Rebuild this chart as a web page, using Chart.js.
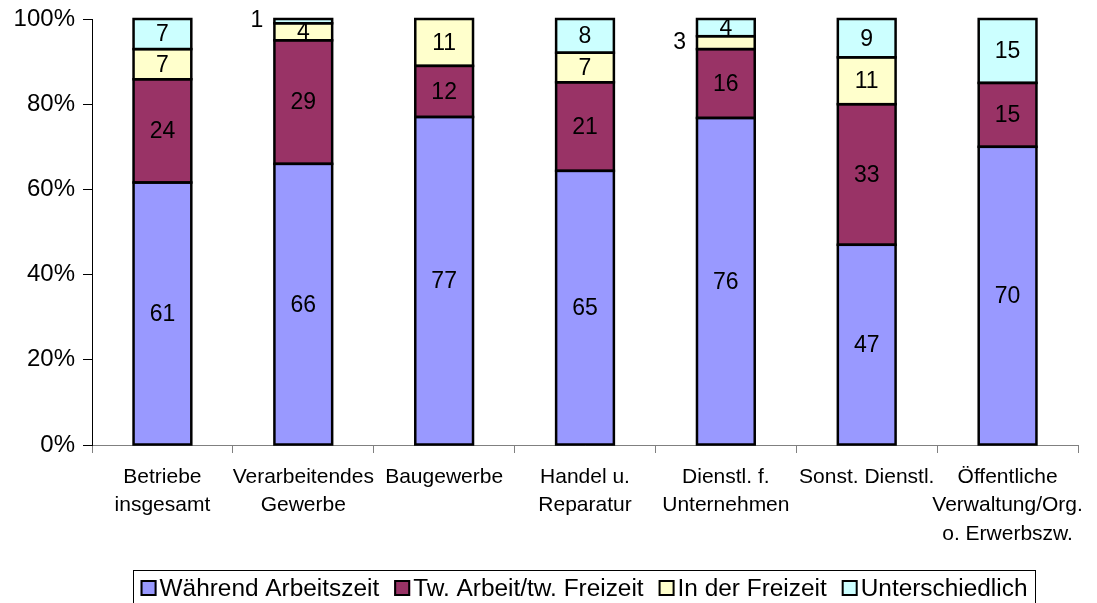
<!DOCTYPE html>
<html>
<head>
<meta charset="utf-8">
<script src="https://cdn.jsdelivr.net/npm/chart.js@4.4.1/dist/chart.umd.min.js"></script>
<style>
    html, body { margin: 0; padding: 0; background: #fff; }
    #wrap { width: 1097px; height: 603px; position: relative; }
</style>
</head>
<body>
<div id="wrap"><canvas id="workChart" width="1097" height="603"></canvas></div>
<script>
const categories = [
    ['Betriebe', 'insgesamt'],
    ['Verarbeitendes', 'Gewerbe'],
    ['Baugewerbe'],
    ['Handel u.', 'Reparatur'],
    ['Dienstl. f.', 'Unternehmen'],
    ['Sonst. Dienstl.'],
    ['Öffentliche', 'Verwaltung/Org.', 'o. Erwerbszw.']
];

const waehrendArbeitszeit = [61, 66, 77, 65, 76, 47, 70];
const twArbeitFreizeit    = [24, 29, 12, 21, 16, 33, 15];
const inDerFreizeit       = [7, 4, 11, 7, 3, 11, 0];
const unterschiedlich     = [7, 1, 0, 8, 4, 9, 15];

const yTicks = [0, 20, 40, 60, 80, 100];

const seriesNames  = ['Während Arbeitszeit', 'Tw. Arbeit/tw. Freizeit', 'In der Freizeit', 'Unterschiedlich'];
const seriesColors = ['#9999FF', '#993366', '#FFFFCC', '#CCFFFF'];
const rawSeries = [waehrendArbeitszeit, twArbeitFreizeit, inDerFreizeit, unterschiedlich];

// totals per category, used to stack to 100%
const totals = categories.map((c, i) => rawSeries.reduce((s, arr) => s + arr[i], 0));

const datasets = rawSeries.map((arr, k) => ({
    label: seriesNames[k],
    data: arr.map((v, i) => v === 0 ? null : v / totals[i] * 100),
    raw: arr,
    backgroundColor: seriesColors[k],
    borderWidth: 0,
    barPercentage: 0.41,
    categoryPercentage: 1
}));

const FONT = 'Arial, "Liberation Sans", sans-serif';

// black outline round every segment, centred on the edges
const segmentBorders = {
    id: 'segmentBorders',
    afterDatasetsDraw(chart) {
        const ctx = chart.ctx;
        ctx.save();
        ctx.strokeStyle = '#000';
        ctx.lineWidth = 2.5;
        chart.data.datasets.forEach((ds, k) => {
            chart.getDatasetMeta(k).data.forEach((bar, i) => {
                if (ds.data[i] == null) return;
                const top = Math.min(bar.y, bar.base);
                const h = Math.abs(bar.base - bar.y);
                ctx.strokeRect(bar.x - bar.width / 2, top, bar.width, h);
            });
        });
        ctx.restore();
    }
};

// value labels inside segments (small ones go left of the bar)
const valueLabels = {
    id: 'valueLabels',
    afterDatasetsDraw(chart) {
        const ctx = chart.ctx;
        ctx.save();
        ctx.font = '23px ' + FONT;
        ctx.fillStyle = '#000';
        ctx.textBaseline = 'middle';
        chart.data.datasets.forEach((ds, k) => {
            const meta = chart.getDatasetMeta(k);
            meta.data.forEach((bar, i) => {
                const v = ds.raw[i];
                if (!v) return;
                const yMid = (bar.y + bar.base) / 2;
                if (v < 4) {
                    ctx.textAlign = 'right';
                    ctx.fillText(String(v), bar.x - bar.width / 2 - 11, yMid);
                } else {
                    ctx.textAlign = 'center';
                    ctx.fillText(String(v), bar.x, yMid + 1);
                }
            });
        });
        ctx.restore();
    }
};

// boxed legend under the chart
const boxLegend = {
    id: 'boxLegend',
    afterDraw(chart) {
        const ctx = chart.ctx;
        ctx.save();
        ctx.font = '24.4px ' + FONT;
        const sq = 16, gapSq = 3, gapItem = 15;
        let total = 0;
        const widths = seriesNames.map(n => ctx.measureText(n).width);
        widths.forEach((w, k) => { total += sq + gapSq + w + (k < widths.length - 1 ? gapItem : 0); });
        const boxLeft = 133, boxRight = 1035, boxTop = 570;
        const cx = (boxLeft + boxRight) / 2;
        let x = cx - total / 2;
        const yMid = 588;
        ctx.strokeStyle = '#000';
        ctx.lineWidth = 1;
        ctx.strokeRect(boxLeft + 0.5, boxTop + 0.5, boxRight - boxLeft, 60);
        ctx.textBaseline = 'middle';
        ctx.textAlign = 'left';
        seriesNames.forEach((n, k) => {
            ctx.fillStyle = seriesColors[k];
            ctx.fillRect(x, yMid - sq / 2, sq, sq);
            ctx.lineWidth = 2;
            ctx.strokeRect(x + 1, yMid - sq / 2 + 1, sq - 2, sq - 2);
            ctx.fillStyle = '#000';
            ctx.fillText(n, x + sq + gapSq, yMid + 1);
            x += sq + gapSq + widths[k] + gapItem;
        });
        ctx.restore();
    }
};

new Chart(document.getElementById('workChart'), {
    type: 'bar',
    data: { labels: categories, datasets: datasets },
    options: {
        responsive: false,
        animation: false,
        layout: { padding: { left: 0, right: 19, top: 19, bottom: 0 } },
        plugins: {
            legend: { display: false },
            tooltip: { enabled: false }
        },
        scales: {
            x: {
                stacked: true,
                grid: { offset: true, drawOnChartArea: false, drawTicks: true, tickLength: 8, color: '#808080' },
                border: { color: '#808080', width: 1 },
                ticks: {
                    color: '#000',
                    font: { family: FONT, size: 21, lineHeight: 1.35 },
                    maxRotation: 0,
                    autoSkip: false,
                    padding: 10
                },
                afterFit(scale) {
                    scale.height = 603 - 445;
                    scale.paddingLeft = 0;
                    scale.paddingRight = 0;
                }
            },
            y: {
                stacked: true,
                min: 0,
                max: 100,
                afterBuildTicks(scale) { scale.ticks = yTicks.map(v => ({ value: v })); },
                grid: { drawOnChartArea: false, drawTicks: true, tickLength: 9, color: '#000' },
                border: { color: '#000', width: 1 },
                ticks: {
                    color: '#000',
                    font: { family: FONT, size: 24 },
                    padding: 8,
                    callback: v => v + '%'
                },
                afterFit(scale) {
                    scale.width = 92;
                    scale.paddingTop = 0;
                    scale.paddingBottom = 0;
                }
            }
        }
    },
    plugins: [segmentBorders, valueLabels, boxLegend]
});
</script>
</body>
</html>
